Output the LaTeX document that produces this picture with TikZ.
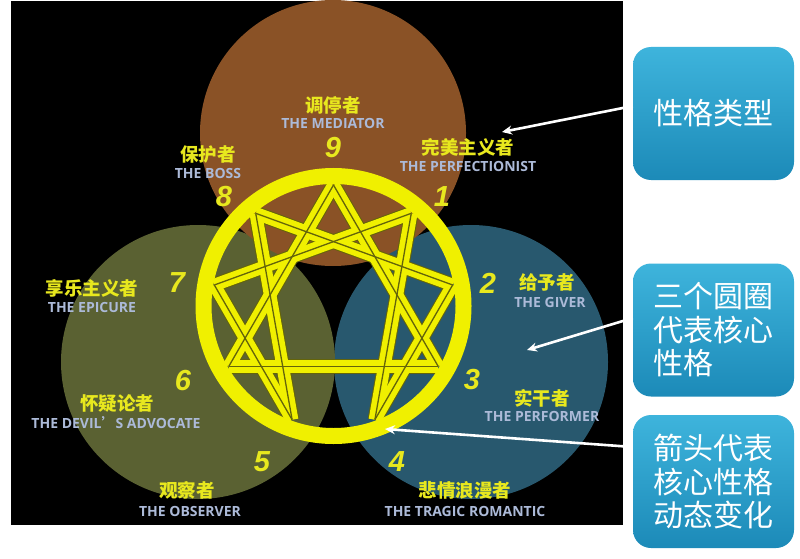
\documentclass[tikz,border=0pt]{standalone}
\usepackage{fontspec}
\newfontfamily\cjk{Noto Sans CJK SC}
\newfontfamily\enfont{Open Sans}
\newfontfamily\numfont{Liberation Sans}
\usetikzlibrary{arrows.meta}
\definecolor{brownc}{RGB}{138,82,38}
\definecolor{greenc}{RGB}{90,97,50}
\definecolor{bluec}{RGB}{40,88,110}
\definecolor{ringy}{RGB}{240,240,0}
\definecolor{stripe}{RGB}{100,100,10}
\definecolor{labyellow}{RGB}{232,232,30}
\definecolor{labblue}{RGB}{172,186,216}
\definecolor{boxtop}{RGB}{62,180,220}
\definecolor{boxbot}{RGB}{28,138,184}
\tikzset{
  zh/.style={text=labyellow, font=\cjk\bfseries\fontsize{18.5}{20}\selectfont, inner sep=0pt},
  en/.style={text=labblue, font=\enfont\bfseries\fontsize{14}{16}\selectfont, inner sep=0pt},
  num/.style={text=labyellow, font=\numfont\bfseries\itshape\fontsize{29}{32}\selectfont, inner sep=0pt},
  notebox/.style={rounded corners=18pt, minimum width=161pt, minimum height=133pt,
    top color=boxtop, bottom color=boxbot, text=white,
    font=\cjk\fontsize{30}{33.5}\selectfont, align=left, inner sep=0pt},
  note/.style={white, line width=2.6pt, -{Stealth[length=10pt,width=9pt]}},
  bandedge/.style={stripe, line width=14.5pt},
  band/.style={ringy, line width=12.5pt},
  bandmid/.style={stripe, line width=1.3pt},
}
\begin{document}
\begin{tikzpicture}[x=1pt,y=-1pt]
\useasboundingbox (0,0) rectangle (800,559);
\fill[white] (0,0) rectangle (800,559);
\fill[black] (11,1) rectangle (623,525);
% three circles
\fill[bluec] (471,362) circle[radius=137pt];
\fill[greenc] (198,362) circle[radius=137pt];
\fill[brownc] (333,133) circle[radius=133pt];
% enneagram
\coordinate (c) at (333.5,306);
\foreach \k in {0,...,8} \path (c) ++({-90+40*\k}:121) coordinate (p\k);
\foreach \a/\b in {0/3,3/6,6/0,1/4,4/2,2/8,8/5,5/7,7/1}
  \draw[bandedge] (p\a) -- (p\b);
\foreach \a/\b in {0/3,3/6,6/0,1/4,4/2,2/8,8/5,5/7,7/1}
  \draw[band] (p\a) -- (p\b);
\foreach \a/\b in {0/3,3/6,6/0,1/4,4/2,2/8,8/5,5/7,7/1}
  \draw[bandmid] (p\a) -- (p\b);
\draw[ringy, line width=16pt] (c) circle[radius=130pt];
% numbers
\node[num] (n9) at (333,148) {9};
\node[num] (n1) at (442,197) {1};
\node[num] (n2) at (488,283) {2};
\node[num] (n3) at (472,380) {3};
\node[num] (n4) at (397,462) {4};
\node[num] (n5) at (262,462) {5};
\node[num] (n6) at (183,381) {6};
\node[num] (n7) at (177,283) {7};
\node[num] (n8) at (224,197) {8};
% labels
\node[zh] (z9) at (333,105) {调停者};
\node[en] (e9) at (333,123) {THE MEDIATOR};
\node[zh] (z8) at (208,155) {保护者};
\node[en] (e8) at (208,173) {THE BOSS};
\node[zh] (z1) at (468,147) {完美主义者};
\node[en] (e1) at (468,166) {THE PERFECTIONIST};
\node[zh] (z7) at (92,288) {享乐主义者};
\node[en] (e7) at (92,307) {THE EPICURE};
\node[zh] (z6) at (117,403) {怀疑论者};
\node[en] (e6) at (116,423) {THE DEVIL{\cjk ’}S ADVOCATE};
\node[zh] (z5) at (187,490) {观察者};
\node[en] (e5) at (190,511) {THE OBSERVER};
\node[zh] (z4) at (465,490) {悲情浪漫者};
\node[en] (e4) at (465,511) {THE TRAGIC ROMANTIC};
\node[zh] (z3) at (542,398) {实干者};
\node[en] (e3) at (542,416) {THE PERFORMER};
\node[zh] (z2) at (547,282) {给予者};
\node[en] (e2) at (550,302) {THE GIVER};
% side boxes
\node[notebox] (b1) at (713.5,113.5) {性格类型};
\node[notebox] (b2) at (713.5,330) {三个圆圈\\代表核心\\性格};
\node[notebox] (b3) at (713.5,481.5) {箭头代表\\核心性格\\动态变化};
% arrow targets
\coordinate (t1) at (502,132);
\coordinate (t2) at (527,350);
\coordinate (t3) at (385,429);
\draw[note] ([yshift=7.5pt]b1.west) -- (t1);
\draw[note] ([yshift=12pt]b2.west) -- (t2);
\draw[note] ([yshift=34.5pt]b3.west) -- (t3);
\end{tikzpicture}
\end{document}
